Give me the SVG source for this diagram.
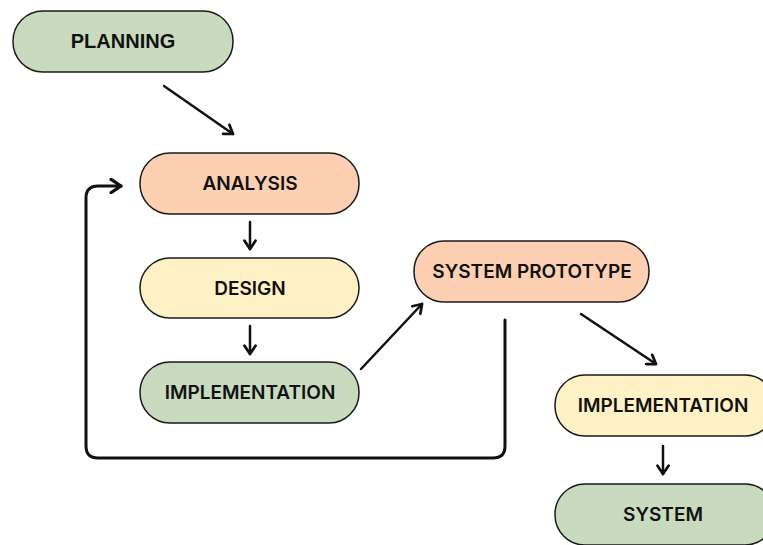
<svg xmlns="http://www.w3.org/2000/svg" width="763" height="545" viewBox="0 0 763 545">
<defs>
<style>
.box{stroke:#1a1a1a;stroke-width:1.5}
.g{fill:#c9dbbe}
.p{fill:#fdd0b4}
.y{fill:#fff1c6}
.t{font-family:"Inter","Liberation Sans",sans-serif;font-weight:600;font-size:19px;fill:#111;text-anchor:middle;dominant-baseline:central}
.a{font-family:"Liberation Sans",Arial,sans-serif;font-weight:700;font-size:20px}
.c{fill:none;stroke:#111;stroke-width:2.5;stroke-linecap:round;stroke-linejoin:round}
</style>
<marker id="ah" viewBox="0 0 10 10" refX="8" refY="5" markerWidth="5.5" markerHeight="5.5" orient="auto" markerUnits="strokeWidth">
<path d="M2,1 L8,5 L2,9" fill="none" stroke="#111" stroke-width="2" stroke-linecap="round" stroke-linejoin="round"/>
</marker>
</defs>
<rect width="763" height="545" fill="#fff"/>
<g id="connectors">
<path class="c" d="M164,86 L233,134" marker-end="url(#ah)"/>
<path class="c" d="M250,222 L250,249" marker-end="url(#ah)"/>
<path class="c" d="M250,326 L250,354" marker-end="url(#ah)"/>
<path class="c" d="M361,369 L422,304" marker-end="url(#ah)"/>
<path class="c" d="M581,314 L656,364" marker-end="url(#ah)"/>
<path class="c" d="M663,446 L663,474" marker-end="url(#ah)"/>
<path class="c" style="stroke-width:3" d="M505,320 L505,446 Q505,458 493,458 L98,458 Q86,458 86,446 L86,198 Q86,186 98,186 L121,186" marker-end="url(#ah)"/>
</g>
<g id="planning"><rect class="box g" x="13" y="11" width="220" height="61" rx="30"/><text class="t a" x="123" y="41">PLANNING</text></g>
<g id="analysis"><rect class="box p" x="140" y="153" width="219" height="61" rx="30"/><text class="t" x="250" y="183">ANALYSIS</text></g>
<g id="design"><rect class="box y" x="140" y="258" width="219" height="60" rx="30"/><text class="t" x="250" y="288">DESIGN</text></g>
<g id="implementation1"><rect class="box g" x="140" y="362" width="219" height="61" rx="30"/><text class="t" x="250" y="392">IMPLEMENTATION</text></g>
<g id="prototype"><rect class="box p" x="414" y="241" width="235" height="61" rx="30"/><text class="t" x="532" y="271">SYSTEM PROTOTYPE</text></g>
<g id="implementation2"><rect class="box y" x="555" y="375" width="220" height="61" rx="30"/><text class="t" x="663" y="405">IMPLEMENTATION</text></g>
<g id="system"><rect class="box g" x="555" y="484" width="220" height="61" rx="30"/><text class="t" x="663" y="514">SYSTEM</text></g>
</svg>
